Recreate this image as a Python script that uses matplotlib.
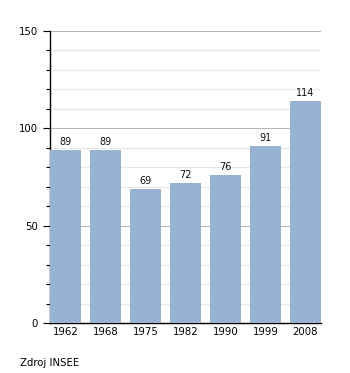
import matplotlib.pyplot as plt
from matplotlib.ticker import MultipleLocator

years = ["1962", "1968", "1975", "1982", "1990", "1999", "2008"]
population = [89, 89, 69, 72, 76, 91, 114]

fig = plt.figure(figsize=(3.5, 3.73), dpi=100)
ax = fig.add_axes([0.143, 0.134, 0.774, 0.783])

x = range(len(years))
w = 0.775
bars = ax.bar(x, population, width=w, color="#98b3d1", zorder=3)
for b, v in zip(bars, population):
    ax.text(b.get_x() + b.get_width() / 2, v + 1.5, str(v),
            ha="center", va="bottom", fontsize=7, color="#111111", zorder=4)

ax.set_xlim(-w / 2, len(years) - 1 + w / 2)
ax.set_ylim(0, 150)
ax.set_xticks(list(x))
ax.set_xticklabels(years, fontsize=7.3)
ax.yaxis.set_major_locator(MultipleLocator(50))
ax.yaxis.set_minor_locator(MultipleLocator(10))
ax.tick_params(axis="y", labelsize=7.3, length=5, width=0.8)
ax.tick_params(axis="y", which="minor", length=3, width=0.8)
ax.tick_params(axis="x", length=0, pad=3)

ax.grid(axis="y", which="major", color="#b8b8b8", linewidth=0.8, zorder=0)
ax.grid(axis="y", which="minor", color="#e6e6e6", linewidth=0.8, zorder=0)
for s in ["top", "right"]:
    ax.spines[s].set_visible(False)
ax.spines["left"].set_linewidth(1.0)
ax.spines["bottom"].set_linewidth(1.0)

fig.text(20 / 350, 1 - 363 / 373, "Zdroj INSEE", fontsize=7.3, va="center", ha="left")

fig.savefig("out.png", dpi=100)
